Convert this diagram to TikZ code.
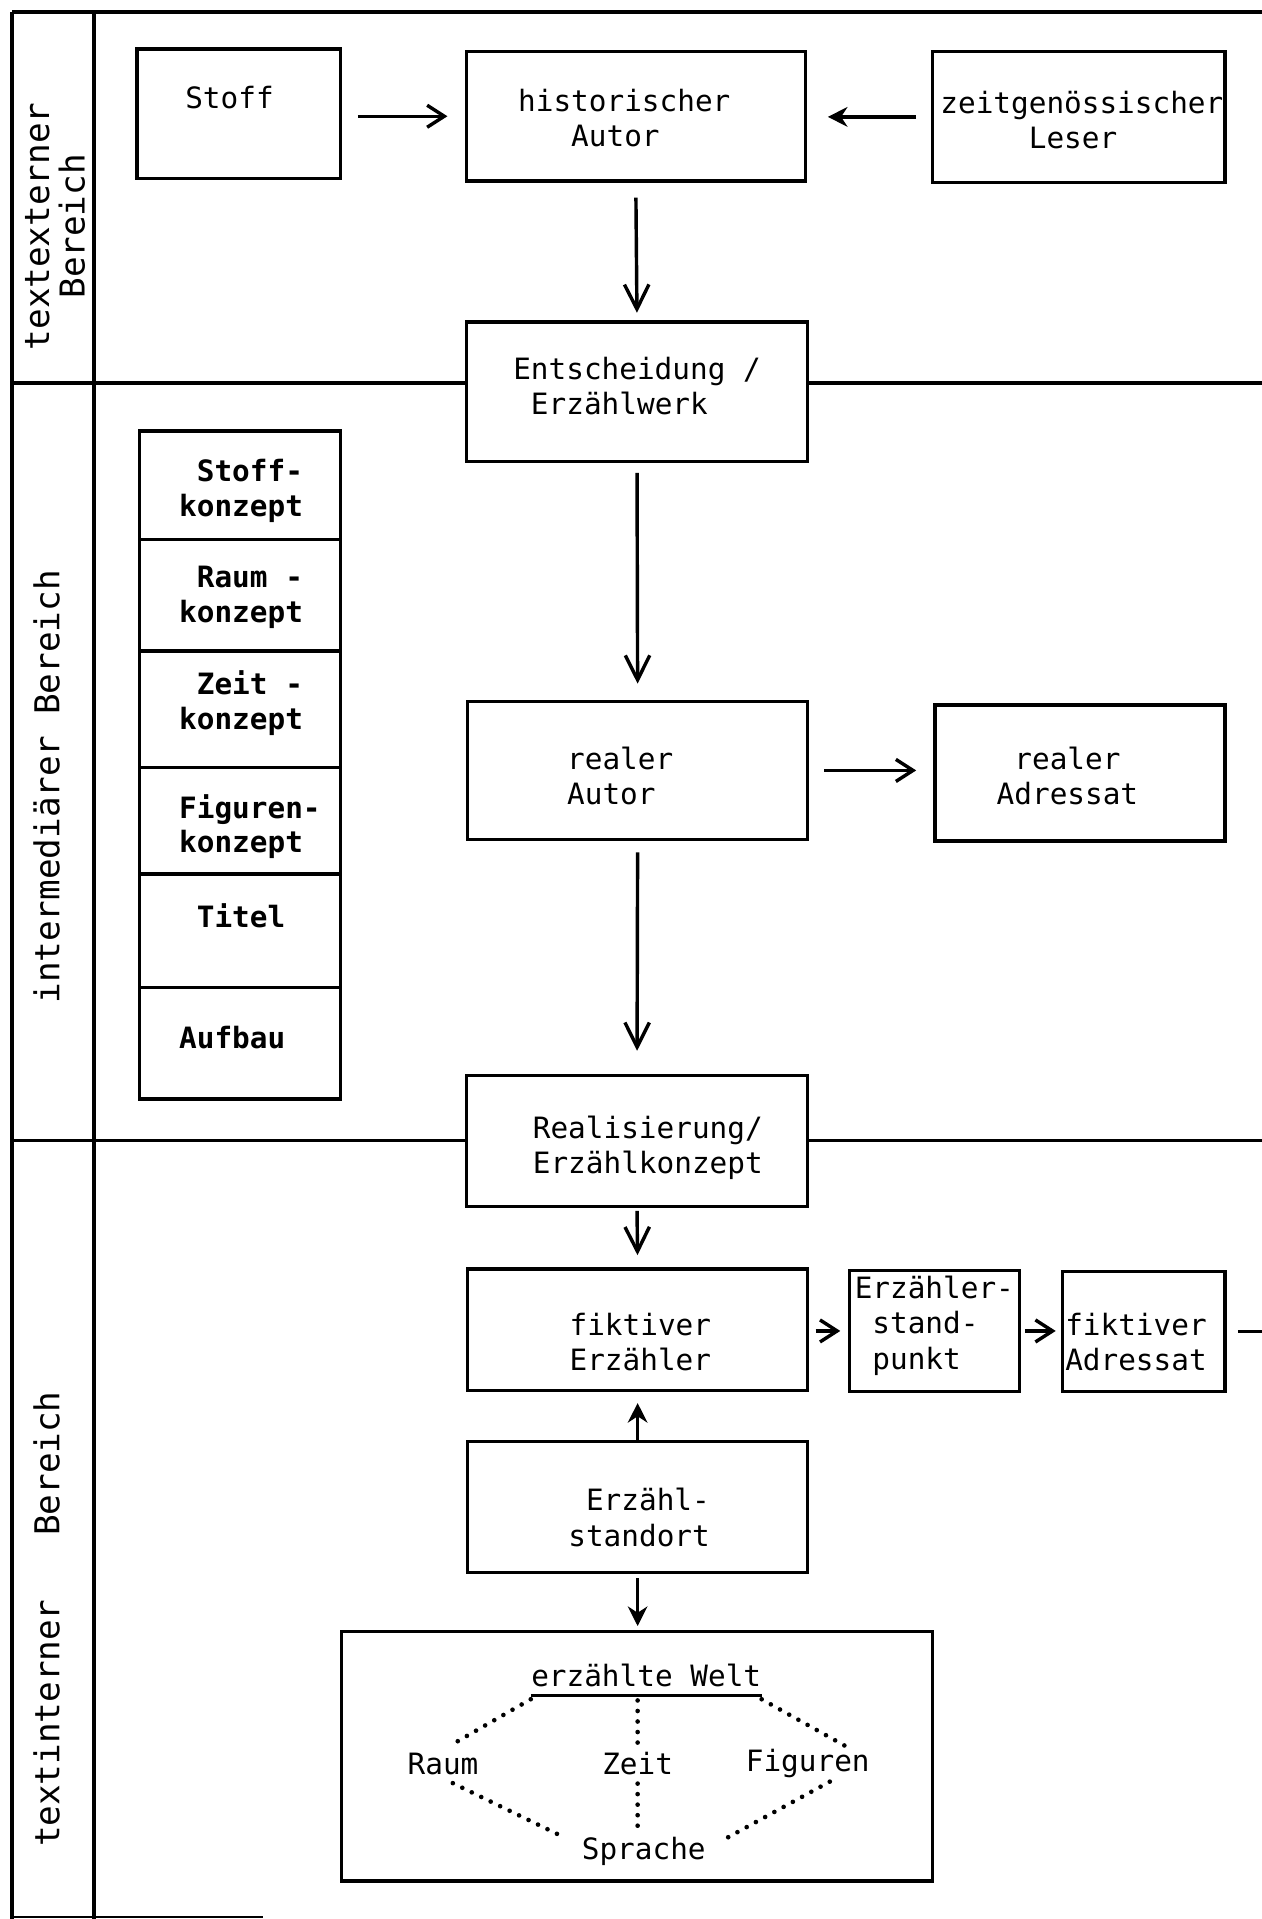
\documentclass[tikz,border=0pt]{standalone}
\usepackage{fontspec}
\newfontfamily\tw{DejaVu Sans Mono}
\usetikzlibrary{arrows.meta,fit,calc}
\newcommand\ind[1]{\hspace*{#1\fontcharwd\font`\x}}
\begin{document}
\begin{tikzpicture}[x=0.5pt,y=-0.5pt,
  every node/.style={font=\tw\fontsize{12}{14.5}\selectfont},
  box/.style={draw, line width=1.4pt, inner sep=0pt},
  txt/.style={inner sep=0pt, anchor=west, align=left},
  stxt/.style={txt, font=\tw\bfseries\fontsize{12}{14}\selectfont},
  rot/.style={rotate=90, align=center, font=\tw\fontsize{14}{14.5}\selectfont},
  frame/.style={line width=1.5pt},
  arr/.style={line width=1.4pt, -{Straight Barb[length=7pt,width=9pt]}},
  arrL/.style={line width=1.4pt, -{Straight Barb[length=10pt,width=10pt]}},
  arrF/.style={line width=1.4pt, -{Stealth[length=8pt,width=8pt]}},
  dots/.style={line width=1.9pt, line cap=round, dash pattern=on 0pt off 4.3pt}
]
\useasboundingbox (0,0) rectangle (1031,1568);

% frame
\draw[frame] (10,10) -- (1031,10);
\draw[frame] (10,10) -- (10,1568);
\draw[frame] (77,10) -- (77,1568);
\draw[line width=0.8pt] (10,1566) -- (215,1566);

% region labels
\node[rot] (lab1) at (45,185) {textexterner\\Bereich};
\node[rot] (lab2) at (38,643) {intermediärer Bereich};
\node[rot] (lab3) at (38,1323) {textinterner\hspace*{26pt}Bereich};

% top region
\node[box, fit={(112,40)(278,146)}] (stoff) {};
\node[txt] (stofftxt) at (151,80) {Stoff};
\node[box, fit={(381,42)(658,148)}] (hist) {};
\node[txt] (histtxt) at (423,96.5) {historischer\\\ind{3}Autor};
\node[box, fit={(762,42)(1001,149)}] (leser) {};
\node[txt] (lesertxt) at (768,98) {zeitgenössischer\\\ind{5}Leser};
\node[box, fit={(381,263)(660,377)}] (entsch) {};
\node[txt] (entschtxt) at (419,315.5) {Entscheidung /\\\ind{1}Erzählwerk};

% separators
\draw[frame] (10,313) -- (381,313);
\draw[frame] (660,313) -- (1031,313);
\draw[frame] (10,932) -- (381,932);
\draw[frame] (660,932) -- (1031,932);

% stack
\node[box, fit={(114,352)(278,441)}] (sk1) {};
\node[box, fit={(114,441)(278,532)}] (sk2) {};
\node[box, fit={(114,532)(278,627)}] (sk3) {};
\node[box, fit={(114,627)(278,714)}] (sk4) {};
\node[box, fit={(114,714)(278,807)}] (sk5) {};
\node[box, fit={(114,807)(278,898)}] (sk6) {};
\node[stxt] (sk1t) at (146,401) {\ind{1}Stoff-\\konzept};
\node[stxt] (sk2t) at (146,488) {\ind{1}Raum -\\konzept};
\node[stxt] (sk3t) at (146,574.5) {\ind{1}Zeit -\\konzept};
\node[stxt] (sk4t) at (146,675.5) {Figuren-\\konzept};
\node[stxt] (sk5t) at (146,748) {\ind{1}Titel};
\node[stxt] (sk6t) at (146,848) {Aufbau};

% middle
\node[box, fit={(382,573)(660,686)}] (realaut) {};
\node[txt] (realauttxt) at (463,634) {realer\\Autor};
\node[box, fit={(764,576)(1001,687)}] (realadr) {};
\node[txt] (realadrtxt) at (814,634) {\ind{1}realer\\Adressat};
\node[box, fit={(381,879)(660,986)}] (realis) {};
\node[txt] (realistxt) at (435,938) {Realisierung/\\Erzählkonzept};

% bottom
\node[box, fit={(382,1037)(660,1136)}] (fikterz) {};
\node[txt] (fikterztxt) at (465,1096.5) {fiktiver\\Erzähler};
\node[box, fit={(694,1038)(833,1137)}] (standp) {};
\node[txt] (standptxt) at (698,1083) {Erzähler-\\\ind{1}stand-\\\ind{1}punkt};
\node[box, fit={(868,1039)(1001,1137)}] (fiktadr) {};
\node[txt] (fiktadrtxt) at (870,1096.5) {fiktiver\\Adressat};
\coordinate (offr) at (1040,1092);
\node[box, fit={(382,1178)(660,1285)}] (estand) {};
\node[txt] (estandtxt) at (464,1240) {\ind{1}Erzähl-\\standort};
\node[box, fit={(279,1333)(762,1537)}] (welt) {};

\node[inner xsep=0pt] (ew) at (528,1369) {erzählte Welt};
\node (raum) at (362,1441) {Raum};
\node (zeit) at (521,1441) {Zeit};
\node (fig) at (660,1441) {Figuren};
\node (spr) at (526,1513) {Sprache};
\draw[line width=1.2pt] (ew.south west) -- (ew.south east);

\draw[dots] ([yshift=-1.5pt]ew.south west) -- ([xshift=4pt]raum.north);
\draw[dots, shorten <=2pt] (zeit.north |- ew.south) -- (zeit.north);
\draw[dots] ([yshift=-1.5pt]ew.south east) -- ([xshift=15pt,yshift=-2pt]fig.north);
\draw[dots] ([xshift=4pt]raum.south) -- ([xshift=-6pt,yshift=7pt]spr.west);
\draw[dots] (zeit.south) -- (zeit.south |- spr.north);
\draw[dots] ([xshift=9pt,yshift=2pt]fig.south) -- ([xshift=4pt,yshift=5pt]spr.east);

% connectors
\draw[arr, shorten <=6.5pt, shorten >=7pt] (stoff.east |- hist.west) -- (hist.west);
\draw[arrF, shorten <=6pt, shorten >=8.5pt] (leser.west) -- (hist.east |- leser.west);
\draw[arrL, shorten <=6pt, shorten >=3pt] (hist.south) -- (entsch.north);
\draw[arrL, shorten <=4pt, shorten >=6.5pt] (entsch.south) -- (realaut.north);
\draw[arr, shorten <=6pt, shorten >=7pt] (realaut.east) -- (realadr.west |- realaut.east);
\draw[arrL, shorten <=4.5pt, shorten >=9.5pt] (realaut.south) -- (realis.north);
\draw[arrL, shorten <=1pt, shorten >=5pt] (realis.south) -- (fikterz.north);
\draw[arr, shorten <=2.5pt, shorten >=3pt] (fikterz.east |- standp.west) -- (standp.west);
\draw[arr, shorten <=1.5pt, shorten >=2pt] (standp.east) -- (fiktadr.west |- standp.east);
\draw[line width=1.4pt, shorten <=4.5pt] (fiktadr.east) -- (offr |- fiktadr.east);
\draw[arrF, shorten >=4.5pt] (estand.north) -- (fikterz.south);
\draw[arrF, shorten <=1.5pt, shorten >=1.5pt] (estand.south) -- (estand.south |- welt.north);
\end{tikzpicture}
\end{document}
